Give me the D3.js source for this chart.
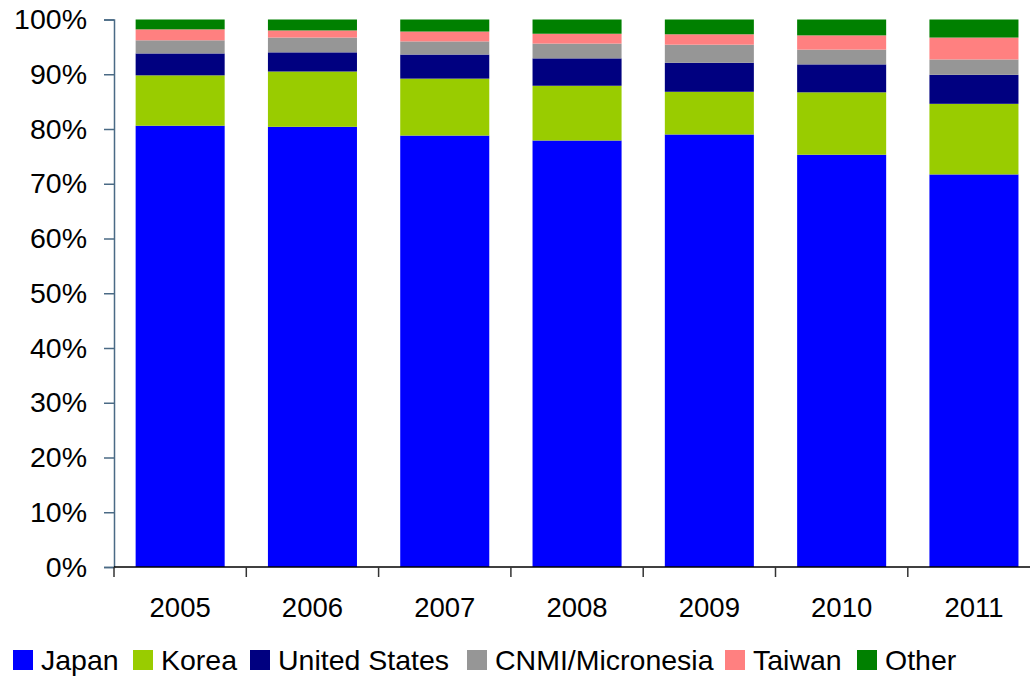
<!DOCTYPE html>
<html>
<head>
<meta charset="utf-8">
<script src="https://cdn.jsdelivr.net/npm/d3@7"></script>
<style>
html, body { margin: 0; padding: 0; background: #fff; }
svg { display: block; }
text { font-family: "Liberation Sans", Arial, sans-serif; fill: #000; }
</style>
</head>
<body>
<svg id="chart" width="1030" height="676"></svg>
<script>
const years = ["2005", "2006", "2007", "2008", "2009", "2010", "2011"];
const seriesNames = ["Japan", "Korea", "United States", "CNMI/Micronesia", "Taiwan", "Other"];
const seriesColors = ["#0000FF", "#99CC00", "#000080", "#969696", "#FF8080", "#008000"];
const japan  = [80.6, 80.4, 78.8, 77.9, 79.0, 75.3, 71.7];
const korea  = [9.2, 10.1, 10.4, 10.0, 7.8, 11.4, 12.9];
const usa    = [4.0, 3.5, 4.4, 5.0, 5.3, 5.1, 5.3];
const cnmi   = [2.4, 2.7, 2.4, 2.7, 3.3, 2.7, 2.8];
const taiwan = [2.0, 1.3, 1.8, 1.8, 1.9, 2.6, 4.0];
const other  = [1.8, 2.0, 2.2, 2.6, 2.7, 2.9, 3.3];
const yTicks = [0, 10, 20, 30, 40, 50, 60, 70, 80, 90, 100];

const seriesValues = [japan, korea, usa, cnmi, taiwan, other];
const rows = years.map((y, i) => {
  const r = { year: y };
  seriesNames.forEach((s, k) => r[s] = seriesValues[k][i]);
  return r;
});

const svg = d3.select("#chart");
const x0 = 114, step = 132.3;
const x = d3.scaleBand().domain(years).range([x0, x0 + step * years.length])
  .paddingInner(0.327).paddingOuter(0.1635);
const y = d3.scaleLinear().domain([0, 100]).range([567, 19.5]);

const stack = d3.stack().keys(seriesNames);
const layers = stack(rows);

svg.append("g").selectAll("g").data(layers).join("g")
  .attr("fill", (d, i) => seriesColors[i])
  .selectAll("rect").data(d => d).join("rect")
  .attr("x", d => x(d.data.year))
  .attr("width", x.bandwidth())
  .attr("y", d => y(d[1]))
  .attr("height", d => y(d[0]) - y(d[1]));

// Y axis
const yAxis = d3.axisLeft(y).tickValues(yTicks).tickFormat(d => d + "%").tickSize(10).tickPadding(17);
const gy = svg.append("g").attr("transform", `translate(${x0},0)`).call(yAxis);
gy.select(".domain").attr("stroke", "#4a6a85").attr("stroke-width", 1.5);
gy.selectAll(".tick line").attr("stroke", "#4a6a85").attr("stroke-width", 1.5);
gy.selectAll(".tick text").attr("font-size", 28.5).attr("font-family", "Liberation Sans, Arial, sans-serif").attr("fill", "#000");

// X axis line
svg.append("line").attr("x1", x0).attr("x2", 1030).attr("y1", 567).attr("y2", 567)
  .attr("stroke", "#000").attr("stroke-width", 1.5);
// X category boundary ticks
const bounds = d3.range(years.length).map(i => x0 + i * step);
svg.append("g").selectAll("line").data(bounds).join("line")
  .attr("x1", d => d).attr("x2", d => d).attr("y1", 567).attr("y2", 577)
  .attr("stroke", "#333").attr("stroke-width", 1.5);
// X labels
svg.append("g").selectAll("text").data(years).join("text")
  .attr("x", d => x(d) + x.bandwidth() / 2)
  .attr("y", 617)
  .attr("text-anchor", "middle")
  .attr("font-size", 27.5)
  .text(d => d);

// Legend
const legendX = [13, 133, 250, 467, 725, 857];
const lg = svg.append("g").selectAll("g").data(seriesNames).join("g")
  .attr("transform", (d, i) => `translate(${legendX[i]},650)`);
lg.append("rect").attr("width", 20).attr("height", 20).attr("fill", (d, i) => seriesColors[i]);
lg.append("text").attr("x", 28).attr("y", 20).attr("font-size", 28.5).text(d => d);
</script>
</body>
</html>
